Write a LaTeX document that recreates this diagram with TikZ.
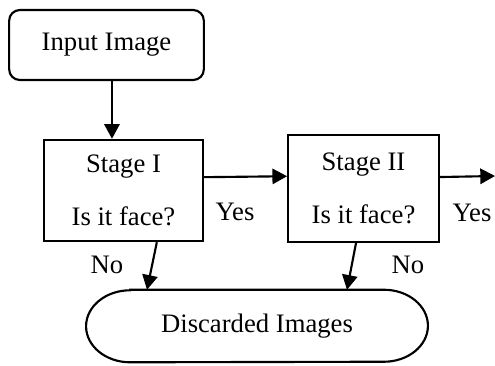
\documentclass[tikz,border=0pt]{standalone}
\usepackage{fontspec}
\setmainfont{Liberation Serif}
\usetikzlibrary{arrows.meta,calc}
\tikzset{
  box/.style={draw=black,line width=1.6pt,inner sep=0pt,align=center,font={\fontsize{20}{40}\selectfont}},
  lbl/.style={inner sep=0pt,font={\fontsize{20}{24}\selectfont}},
  arr/.style={line width=1.6pt,-{Triangle[length=11pt,width=11.5pt]}},
  outline/.style={draw=black,line width=1.6pt}
}
\begin{document}
\begin{tikzpicture}[x=0.75pt,y=-0.75pt]
\useasboundingbox (0,0) rectangle (495,365);
\node[box,rounded corners=8pt,minimum width=146pt,minimum height=52.5pt] (input) at (106.5,45) {Input Image};
\node[box,minimum width=119pt,minimum height=76pt] (s1) at (123.5,190.5) {Stage I\\Is it face?};
\node[box,minimum width=113pt,minimum height=80pt] (s2) at (363.5,188.5) {Stage II\\Is it face?};
\node[lbl,minimum width=256pt,minimum height=54pt] (disc) at (257,326) {Discarded Images};
\draw[outline] ([xshift=33pt]disc.north west) -- ([xshift=-33pt]disc.north east)
  arc[start angle=90,end angle=-90,x radius=33pt,y radius=27pt]
  -- ([xshift=33pt]disc.south west)
  arc[start angle=270,end angle=90,x radius=33pt,y radius=27pt] -- cycle;
\coordinate (out) at (495,176);
\draw[arr] ([xshift=4.1pt]input.south) -- ([xshift=4.1pt]input.south |- s1.north);
\draw[arr] ([yshift=10pt]s1.east) -- ([yshift=9.2pt]s2.west);
\draw[arr] ([yshift=8.6pt]s2.east) -- (out);
\draw[arr] ([xshift=25pt]s1.south) -- ([xshift=-82.5pt]disc.north);
\draw[arr] ([xshift=-5.6pt]s2.south) -- ([xshift=67.5pt]disc.north);
\node[lbl] (yes1) at (235,212) {Yes};
\node[lbl] (yes2) at (472,213) {Yes};
\node[lbl] (no1) at (107,265) {No};
\node[lbl] (no2) at (408,265) {No};
\end{tikzpicture}
\end{document}
